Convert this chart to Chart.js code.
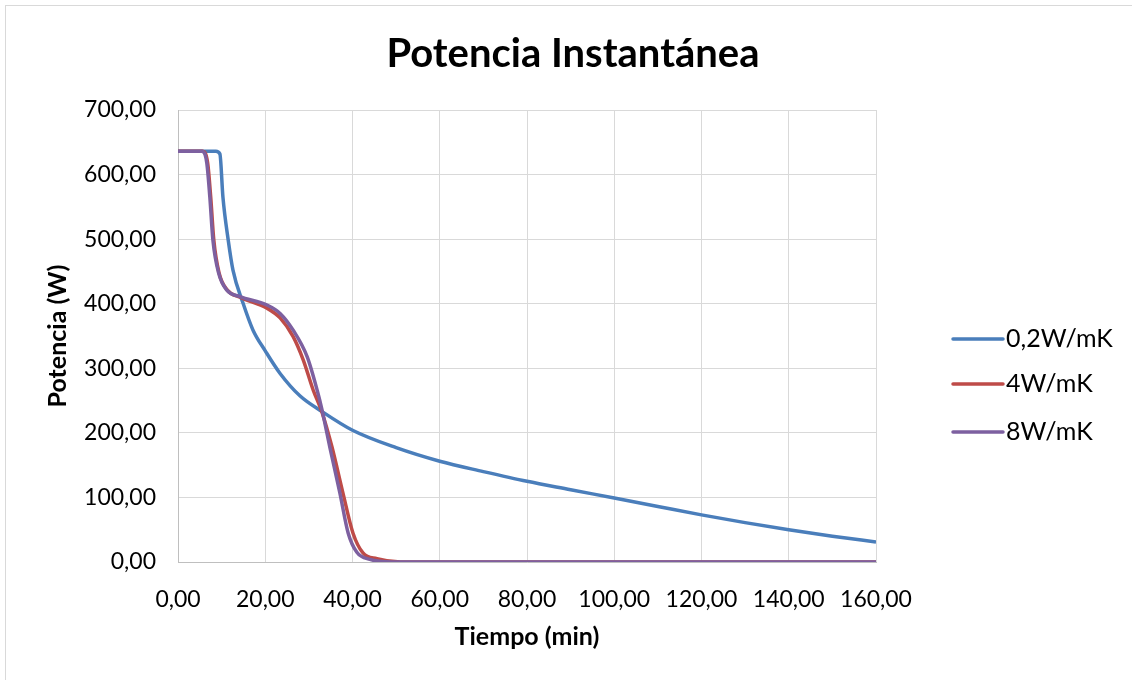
<!DOCTYPE html>
<html>
<head>
<meta charset="utf-8">
<title>Potencia Instantánea</title>
<script src="https://cdn.jsdelivr.net/npm/chart.js@4.4.1/dist/chart.umd.min.js"></script>
<style>
    html, body { margin: 0; padding: 0; background: #fff; }
    #wrap { position: relative; width: 1132px; height: 680px; }
</style>
</head>
<body>
<div id="wrap"><canvas id="potencia-chart" width="1132" height="680"></canvas></div>
<script>
// Data (tiempo in min, potencia in W)
const tiempo02 = [0, 8.7, 9.6, 10.3, 11.5, 12.6, 14.9, 17.2, 20, 23.4, 28, 33, 40, 50, 60, 70, 80, 90, 100, 110, 120, 130, 140, 150, 160];
const potencia02 = [636, 636, 632, 565, 499, 452, 401, 359, 327, 292, 257, 233, 204, 177, 156, 140, 125, 112, 99, 86, 73, 61, 50, 40, 31];

const tiempo4 = [0, 5.7, 6.8, 7.5, 8.2, 9.4, 11.3, 14.2, 20.4, 23.4, 26.4, 28.7, 31, 33, 35.3, 37.8, 40.1, 42.4, 45.6, 51, 160];
const potencia4 = [636, 636, 618, 565, 499, 448, 421, 410, 393, 378, 349, 313, 266, 232, 178, 107, 45, 14, 5, 0, 0];

const tiempo8 = [0, 5.5, 6.6, 7.3, 8.0, 9.3, 11.2, 14.2, 20.4, 23.4, 26.4, 29.6, 31.9, 33, 34.8, 37.1, 39, 41, 44, 49, 160];
const potencia8 = [636, 636, 618, 565, 499, 448, 421, 411, 398, 385, 359, 318, 266, 236, 178, 107, 45, 15, 4, 0, 0];

const seriesLabels = ['0,2W/mK', '4W/mK', '8W/mK'];
const seriesColors = ['#4a7ebb', '#be4b48', '#7d60a0'];

const yTicks = [0, 100, 200, 300, 400, 500, 600, 700];
const xTicks = [0, 20, 40, 60, 80, 100, 120, 140, 160];

function toPoints(xs, ys) {
    return xs.map((x, i) => ({ x: x, y: ys[i] }));
}

function fmt(v) {
    return v.toFixed(2).replace('.', ',');
}

const FONT = 'Lato, "Open Sans", sans-serif';

// Title, axis titles, legend and outer frame
const decorations = {
    id: 'decorations',
    afterDraw(chart) {
        const c = chart.ctx;
        const area = chart.chartArea;
        c.save();

        // frame
        c.strokeStyle = '#d9d9d9';
        c.lineWidth = 1;
        c.strokeRect(5.5, 5.5, 1140, 700);

        c.fillStyle = '#000';
        c.textAlign = 'center';
        c.textBaseline = 'middle';

        c.font = 'bold 40px ' + FONT;
        c.fillText('Potencia Instantánea', 573, 54);

        c.font = 'bold 25px ' + FONT;
        c.fillText('Tiempo (min)', (area.left + area.right) / 2, 637);

        c.save();
        c.translate(58, (area.top + area.bottom) / 2);
        c.rotate(-Math.PI / 2);
        c.fillText('Potencia (W)', 0, 0);
        c.restore();

        // legend
        const legendY = [339, 384, 432];
        c.textAlign = 'left';
        c.font = '25px ' + FONT;
        seriesLabels.forEach((label, i) => {
            c.strokeStyle = seriesColors[i];
            c.lineWidth = 3.5;
            c.lineCap = 'round';
            c.beginPath();
            c.moveTo(953, legendY[i]);
            c.lineTo(1003, legendY[i]);
            c.stroke();
            c.fillStyle = '#000';
            c.fillText(label, 1006, legendY[i]);
        });

        c.restore();
    }
};

const ctx = document.getElementById('potencia-chart');

new Chart(ctx, {
    type: 'line',
    data: {
        datasets: [
            { label: seriesLabels[0], data: toPoints(tiempo02, potencia02), borderColor: seriesColors[0], order: 2 },
            { label: seriesLabels[1], data: toPoints(tiempo4, potencia4), borderColor: seriesColors[1], order: 1 },
            { label: seriesLabels[2], data: toPoints(tiempo8, potencia8), borderColor: seriesColors[2], order: 0 }
        ]
    },
    options: {
        responsive: false,
        animation: false,
        devicePixelRatio: 1,
        layout: {
            padding: { top: 110, right: 256, left: 0, bottom: 0 }
        },
        elements: {
            line: { borderWidth: 3.5, cubicInterpolationMode: 'monotone', fill: false },
            point: { radius: 0, hoverRadius: 0 }
        },
        plugins: {
            legend: { display: false },
            title: { display: false },
            tooltip: { enabled: false }
        },
        scales: {
            x: {
                type: 'linear',
                min: 0,
                max: 160,
                afterFit(scale) { scale.height = 118; },
                afterBuildTicks(scale) { scale.ticks = xTicks.map(v => ({ value: v })); },
                grid: { color: '#d9d9d9', lineWidth: 1, drawTicks: false },
                border: { color: '#bfbfbf', width: 1 },
                ticks: {
                    padding: 24,
                    color: '#000',
                    font: { family: FONT, size: 23 },
                    maxRotation: 0,
                    callback: v => fmt(v)
                }
            },
            y: {
                min: 0,
                max: 700,
                afterFit(scale) { scale.width = 178; },
                afterBuildTicks(scale) { scale.ticks = yTicks.map(v => ({ value: v })); },
                grid: { color: '#d9d9d9', lineWidth: 1, drawTicks: false },
                border: { color: '#bfbfbf', width: 1 },
                ticks: {
                    padding: 22,
                    color: '#000',
                    font: { family: FONT, size: 23 },
                    callback: v => fmt(v)
                }
            }
        }
    },
    plugins: [decorations]
});
</script>
</body>
</html>
